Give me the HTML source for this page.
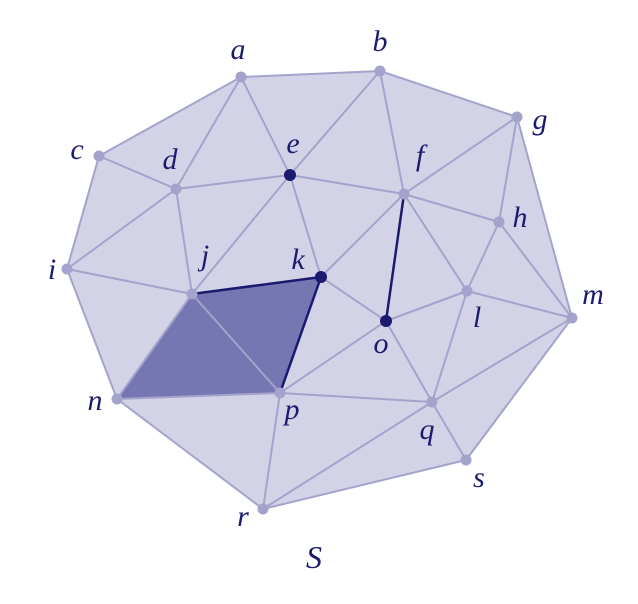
<!DOCTYPE html>
<html><head><meta charset="utf-8"><style>
html,body{margin:0;padding:0;background:#fff;width:638px;height:604px;overflow:hidden}
text{font-family:"Liberation Serif","DejaVu Serif",serif;font-style:italic;font-size:30px;fill:#1a1a6e}
</style></head><body>
<svg id="chart" width="638" height="604" viewBox="0 0 638 604" xmlns="http://www.w3.org/2000/svg">
<g id="hull"></g><g id="dark"></g><g id="edges"></g><g id="darkedges"></g><g id="nodes"></g><g id="labels"></g>
<text x="306" y="568" style="font-size:32px">S</text>
</svg>
<script>
const names=["a","b","g","c","d","e","f","h","i","j","k","l","m","o","n","p","q","s","r"];
const xs=[241,380,517,99,176,290,404,499,67,192,321,467,572,386,117,280,432,466,263];
const ys=[77,71,117,156,189,175,194,222,269,294,277,291,318,321,399,393,402,460,509];
const labelDx=[-3,0,23,-22,-6,3,16,21,-15,13,-23,10,21,-5,-22,12,-5,13,-20];
const labelDy=[-25,-27,5,-4,-27,-29,-36,-2,3,-36,-15,29,-21,25,4,19,30,20,10];
const hullOrder=["a","b","g","m","s","r","n","i","c"];
const edges=[["a","b"],["b","g"],["g","m"],["m","s"],["s","r"],["r","n"],["n","i"],["i","c"],["c","a"],
["c","d"],["a","d"],["a","e"],["b","e"],["b","f"],["e","d"],["e","f"],["f","g"],["f","h"],["g","h"],["h","m"],["h","l"],["f","l"],["l","m"],
["d","i"],["d","j"],["i","j"],["e","j"],["e","k"],["k","f"],["k","o"],["j","n"],["j","p"],["n","p"],["o","l"],["o","p"],["o","q"],["l","q"],["q","m"],["q","s"],["p","q"],["p","r"],["q","r"]];
const darkEdges=[["j","k"],["k","p"],["f","o"]];
const darkTris=[["j","k","p"],["j","p","n"]];
const darkNodes=["e","k","o"];
const NS="http://www.w3.org/2000/svg";
const P=n=>{const i=names.indexOf(n);return [xs[i],ys[i]];};
function mk(t,parent,attrs){const el=document.createElementNS(NS,t);for(const k in attrs)el.setAttribute(k,attrs[k]);document.getElementById(parent).appendChild(el);return el;}
let hp=mk("polygon","hull",{points:hullOrder.map(n=>P(n).join(",")).join(" "),fill:"#d3d3e8",stroke:"none"});


darkTris.forEach(t=>{const el=mk("polygon","dark",{points:t.map(n=>P(n).join(",")).join(" "),fill:"#7676b3",stroke:"none"});

});
edges.forEach(e=>{const a=P(e[0]),b=P(e[1]);const el=mk("line","edges",{x1:a[0],y1:a[1],x2:b[0],y2:b[1],stroke:"#a3a3cc","stroke-width":2});

});
darkEdges.forEach(e=>{const a=P(e[0]),b=P(e[1]);const el=mk("line","darkedges",{x1:a[0],y1:a[1],x2:b[0],y2:b[1],stroke:"#1a1a6e","stroke-width":2.5});

});
names.forEach((n,i)=>{const d=darkNodes.includes(n);
const c=mk("circle","nodes",{cx:xs[i],cy:ys[i],r:d?6:5.5,fill:d?"#1a1a6e":"#a3a3cc"});


const t=mk("text","labels",{x:xs[i]+labelDx[i],y:ys[i]+labelDy[i],"text-anchor":"middle","dominant-baseline":"middle"});
t.textContent=n;

});
</script>
</body></html>
